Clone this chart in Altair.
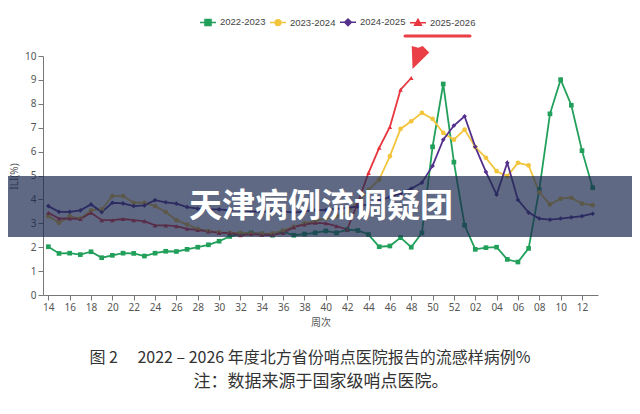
import altair as alt
import pandas as pd

# week axis: 14..52 then 01..13
weeks = [str(w) for w in range(14, 53)] + [f"{w:02d}" for w in range(1, 14)]
x_ticks = weeks[::2]

seasons = ["2022-2023", "2023-2024", "2024-2025", "2025-2026"]
colors = ["#22a05b", "#f2c53d", "#55308d", "#e8363f"]
markers = ["square", "circle", "diamond", "triangle-up"]

ili_2223 = [2.02, 1.74, 1.75, 1.69, 1.81, 1.56, 1.66, 1.75, 1.74, 1.63, 1.75, 1.83, 1.82, 1.91, 2.0, 2.1, 2.25,
            2.45, 2.55, 2.6, 2.55, 2.5, 2.65, 2.5, 2.55, 2.6, 2.68, 2.6, 2.73, 2.7, 2.53, 2.02, 2.05, 2.4, 2.0,
            2.6, 6.2, 8.83, 5.56,
            2.92, 1.91, 1.98, 2.0, 1.49, 1.38, 1.95, 4.41, 7.58, 9.01, 7.94, 6.04, 4.49]
ili_2324 = [3.3, 3.02, 3.3, 3.2, 3.54, 3.58, 4.14, 4.14, 3.86, 3.86, 3.72, 3.47, 3.13, 2.95, 2.77, 2.67, 2.62,
            2.6, 2.6, 2.58, 2.57, 2.58, 2.7, 2.85, 3.0, 3.1, 3.2, 3.3, 3.45, 3.9, 4.4, 4.83, 5.81, 6.95, 7.27,
            7.62, 7.37, 6.78, 6.5,
            6.92, 6.19, 5.74, 5.18, 4.97, 5.53, 5.42, 4.3, 3.79, 4.03, 4.07, 3.82, 3.76]
ili_2425 = [3.72, 3.48, 3.48, 3.54, 3.79, 3.47, 3.86, 3.83, 3.72, 3.75, 3.97, 3.88, 3.82, 3.68, 3.61, 3.58, 3.58,
            3.54, 3.55, 3.5, 3.48, 3.5, 3.5, 3.45, 3.5, 3.55, 3.55, 3.6, 3.65, 3.7, 3.8, 3.95, 4.1, 4.25, 4.45,
            4.7, 5.4, 6.5, 7.09,
            7.48, 6.2, 5.15, 4.2, 5.53, 3.98, 3.45, 3.2, 3.15, 3.2, 3.25, 3.3, 3.4]
ili_2526 = [3.44, 3.2, 3.2, 3.18, 3.44, 3.13, 3.13, 3.18, 3.13, 3.09, 2.91, 2.91, 2.88, 2.77, 2.72, 2.66, 2.6,
            2.6, 2.5, 2.55, 2.52, 2.52, 2.6, 2.84, 2.95, 3.02, 3.0, 2.88, 2.74, 3.86, 5.11, 6.16, 7.03, 8.59, 9.08]

banner_text = "天津病例流调疑团"
caption = "图 2\u3000 2022 – 2026 年度北方省份哨点医院报告的流感样病例%"
note = "注：数据来源于国家级哨点医院。"

rows = []
for season, vals in zip(seasons, [ili_2223, ili_2324, ili_2425, ili_2526]):
    for wk, v in zip(weeks, vals):
        rows.append({"season": season, "week": wk, "ili": v})
df = pd.DataFrame(rows)

# legend symbols: a short line with the marker on it
legend_paths = [
    "M-1,0H1M-0.38,-0.38H0.38V0.38H-0.38Z",
    "M-1,0H1M0.36,0A0.36,0.36,0,1,1,-0.36,0A0.36,0.36,0,1,1,0.36,0Z",
    "M-1,0H1M0,-0.42L0.42,0L0,0.42L-0.42,0Z",
    "M-1,0H1M0,-0.42L0.42,0.32L-0.42,0.32Z",
]

legend = alt.Legend(
    orient="none", legendX=156, legendY=-43, direction="horizontal", title=None,
    labelFontSize=9.5, labelColor="#444", labelFont="Liberation Sans", symbolSize=256,
    symbolStrokeWidth=1.5, symbolOpacity=1, labelOffset=3, columnPadding=1, padding=0,
)
legend_scale = alt.Scale(domain=seasons, range=colors)

label_font = "Noto Sans"
base = alt.Chart(df).encode(
    x=alt.X("week:O", sort=weeks, scale=alt.Scale(type="point", padding=0.5),
            axis=alt.Axis(values=x_ticks, labelAngle=0, title="周次", titleFont="Noto Sans CJK SC",
                          titlePadding=5)),
    y=alt.Y("ili:Q", scale=alt.Scale(domain=[0, 10], nice=False),
            axis=alt.Axis(values=list(range(0, 11)), title="ILI(%)", titleX=-24, titleY=120)),
    # data-driven domain (sorted = same order) so this hidden legend is not merged with the real one
    color=alt.Color("season:N", scale=alt.Scale(range=colors), legend=None),
)
lines = base.mark_line(strokeWidth=1.8)
point_layers = [
    base.transform_filter(alt.datum.season == s).mark_point(shape=m, filled=True, size=22, opacity=1)
    for s, m in zip(seasons, markers)
]

# legend carrier, drawn off-canvas
leg_df = pd.DataFrame({"season": seasons})
legend_layer = alt.Chart(leg_df).mark_point(filled=True, size=256, strokeWidth=1.5).encode(
    x=alt.value(-900), y=alt.value(-900),
    fill=alt.Fill("season:N", scale=legend_scale, legend=legend),
    stroke=alt.Stroke("season:N", scale=legend_scale, legend=legend),
    shape=alt.Shape("season:N", scale=alt.Scale(domain=seasons, range=legend_paths), legend=legend),
)

one = pd.DataFrame({"k": [0]})
banner = alt.Chart(one).mark_rect(color="#1b2a4e", opacity=0.7).encode(
    x=alt.value(-43), x2=alt.value(598), y=alt.value(120), y2=alt.value(181)
)
banner_label = alt.Chart(one).mark_text(
    text=banner_text, font="Noto Sans CJK SC", fontSize=33, fontWeight="bold", color="white", baseline="middle"
).encode(x=alt.value(278), y=alt.value(151))

red = "#ea3f46"
underline = alt.Chart(one).mark_rule(color=red, strokeWidth=3, strokeCap="round").encode(
    x=alt.value(362), x2=alt.value(427), y=alt.value(-20)
)
arrow = alt.Chart(one).mark_point(
    shape="M-0.69,-0.92L-0.15,-0.77L0.23,-0.92L0.77,-0.38L-0.62,1Z",
    size=576, filled=True, color=red, opacity=1,
).encode(x=alt.value(377), y=alt.value(1))

cap1 = alt.Chart(one).mark_text(
    text=caption, font="Noto Sans CJK SC", fontSize=16, color="#333", baseline="middle"
).encode(x=alt.value(267), y=alt.value(302))
cap2 = alt.Chart(one).mark_text(
    text=note, font="Noto Sans CJK SC", fontSize=17, color="#333", baseline="middle"
).encode(x=alt.value(278), y=alt.value(326))

chart = (
    alt.layer(lines, *point_layers, legend_layer, banner, banner_label, underline, arrow, cap1, cap2)
    .properties(
        width=555, height=239,
        autosize=alt.AutoSizeParams(type="none"),
        padding={"left": 35, "top": 48, "right": 34, "bottom": 111},
    )
    .configure_view(stroke=None)
    .configure_axis(
        grid=False, domainColor="#777", tickColor="#777", tickSize=5, labelPadding=2,
        labelColor="#555", labelFontSize=10, labelFont=label_font,
        titleColor="#555", titleFontSize=10, titleFontWeight="normal", titleFont=label_font,
    )
)

chart.save("out.html", embed_options={"renderer": "svg", "actions": False})
